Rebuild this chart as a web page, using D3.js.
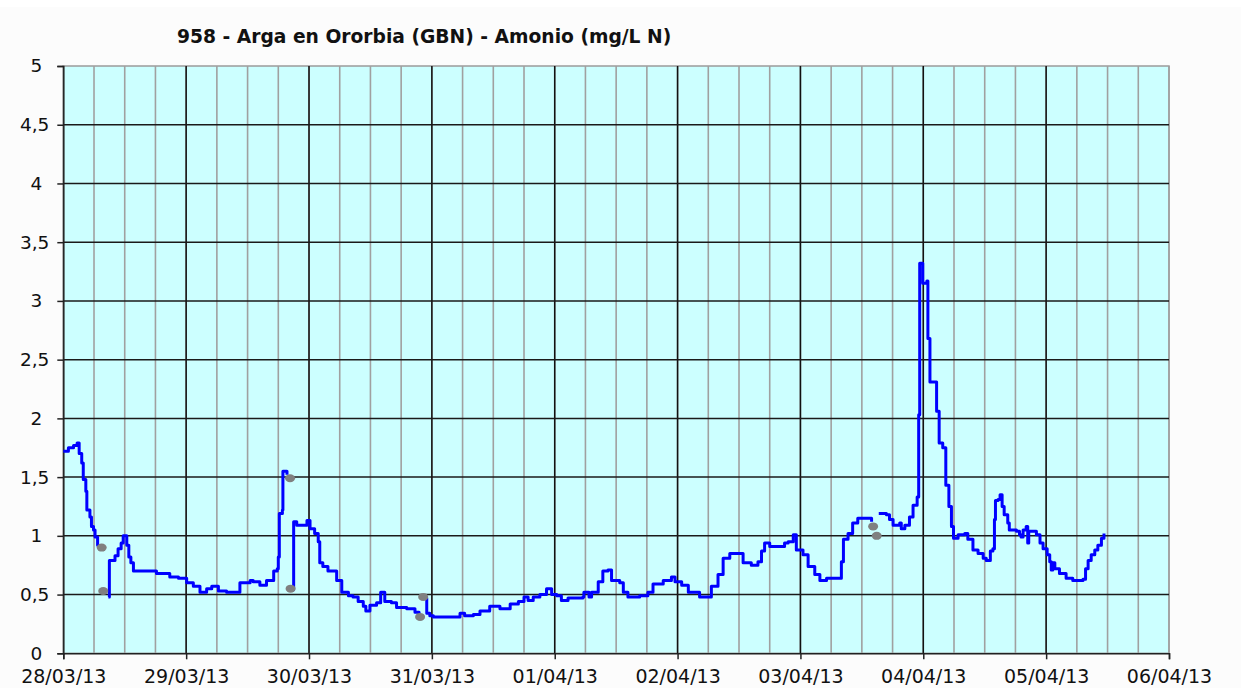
<!DOCTYPE html>
<html>
<head>
<meta charset="utf-8">
<script src="https://cdn.jsdelivr.net/npm/d3@7"></script>
<style>
  body { margin: 0; background: #fff; }
  text { font-family: "DejaVu Sans", Verdana, sans-serif; fill: #111; }
</style>
</head>
<body>
<div id="container"></div>
<script>
/* CONSTANTS AND GLOBALS */
const width = 1246,
  height = 688,
  plotLeft = 63.3,
  plotRight = 1169,
  plotTop = 66,
  plotBottom = 653.3;

const title = "958 - Arga en Ororbia (GBN) - Amonio (mg/L N)";
const inicio = new Date(2013, 2, 28);
const fin = new Date(2013, 3, 6);

// hours since 28/03/13 00:00  (null value = gap in the record)
const horas = [
  0, 1, 2, 2.7, 3.1, 3.6, 3.9, 4.4, 4.6, 5.2, 5.5, 5.9, 6.2, 6.7, 6.9,
  7.5,
  8.8, 9.0, 9.4, 10.1, 10.7, 11.3, 11.7, 12.4, 12.8, 13.2, 13.7, 16.9, 18.2, 20.8, 22.5,
  24.1, 25.4, 26.7, 28.0, 29.0, 30.3, 31.9, 33.9, 34.5, 36.5, 37.1, 38.4, 39.7, 40.7,
  41.1, 41.8, 42.0, 42.2, 42.8, 42.9, 43.5, 43.7,
  44.3,
  44.9, 45.0, 45.6, 47.2, 47.6, 48.2, 49.1, 49.8, 50.1, 50.7, 51.7, 52.7, 53.4, 54.4,
  55.7, 56.6, 57.6, 58.6, 59.1, 59.9, 61.2, 62.0, 62.8, 64.1, 65.1, 67.1, 68.7, 69.5,
  70.0,
  70.6, 71.0, 71.6, 72.3, 76.8, 77.5, 78.4, 80.1, 81.4, 83.3, 85.3, 87.3, 88.9, 90.0,
  90.8, 91.8, 93.1, 94.4, 95.4, 96.4, 97.3, 98.6, 101.5, 101.7, 102.7, 103.2, 104.5,
  105.4, 106.4, 107.1, 108.7, 109.4, 110.3, 112.6, 114.2, 115.2, 117.2, 118.8, 119.5,
  120.8, 122.1, 123.7, 124.3, 126.0, 126.6, 127.9, 128.9, 130.2, 131.8, 132.8, 134.4,
  135.7, 136.4, 137.0, 138.0, 140.0, 140.9, 141.6, 142.6, 143.2, 144.5, 145.5, 146.8,
  147.8, 149.1, 151.0, 152.0, 152.4, 153.3, 154.2, 155.2, 157.5, 157.9,
  158.5,
  159.3, 160.8, 161.4, 162.1, 163.4, 163.7, 164.4, 165.3, 166.0, 166.8, 167.1, 167.3,
  167.8, 167.9, 168.7, 168.9, 169.3, 170.2, 170.6, 171.1, 171.8, 172.4, 173.0, 173.5,
  173.9, 174.8, 176.1, 176.7, 177.7, 178.7, 179.7, 180.3, 181.1, 181.6, 181.9, 182.1,
  182.6, 183.0, 183.4, 183.8, 184.5, 184.8, 186.2, 186.8, 187.1, 187.5, 188.1, 188.4,
  188.6, 189.1, 190.1, 190.8, 191.4, 192.2, 192.7, 193.0, 193.3, 193.7, 194.6, 195.9,
  197.2, 199.2, 199.7, 200.2, 200.8, 201.5, 202.1, 202.8, 203.3
];
const amonio = [
  1.72, 1.75, 1.77, 1.79, 1.70, 1.62, 1.48, 1.38, 1.22, 1.16, 1.08, 1.05, 0.99, 0.92, 0.91,
  null,
  0.48, 0.79, 0.79, 0.83, 0.89, 0.94, 1.00, 0.92, 0.82, 0.77, 0.70, 0.70, 0.68, 0.65, 0.64,
  0.60, 0.57, 0.52, 0.55, 0.57, 0.53, 0.52, 0.52, 0.60, 0.62, 0.61, 0.58, 0.62, 0.62,
  0.70, 0.72, 0.82, 1.19, 1.22, 1.55, 1.55, 1.52,
  null,
  0.54, 1.12, 1.09, 1.09, 1.13, 1.06, 1.02, 0.95, 0.77, 0.74, 0.70, 0.70, 0.62, 0.52,
  0.49, 0.48, 0.44, 0.40, 0.36, 0.41, 0.43, 0.52, 0.44, 0.43, 0.39, 0.38, 0.35, 0.32,
  null,
  0.47, 0.34, 0.32, 0.31, 0.31, 0.34, 0.32, 0.33, 0.36, 0.40, 0.38, 0.42, 0.44, 0.48,
  0.45, 0.48, 0.50, 0.55, 0.50, 0.49, 0.45, 0.47, 0.48, 0.52, 0.48, 0.52, 0.61,
  0.70, 0.71, 0.62, 0.60, 0.52, 0.48, 0.49, 0.52, 0.59, 0.62, 0.65, 0.61,
  0.58, 0.52, 0.52, 0.48, 0.48, 0.57, 0.67, 0.81, 0.85, 0.85, 0.77, 0.75,
  0.78, 0.87, 0.94, 0.91, 0.91, 0.94, 0.95, 1.01, 0.88, 0.84, 0.74, 0.67,
  0.62, 0.64, 0.64, 0.78, 0.97, 1.02, 1.11, 1.15, 1.15, 1.12,
  null,
  1.19, 1.18, 1.14, 1.09, 1.11, 1.06, 1.09, 1.16, 1.26, 1.33, 2.03, 3.32,
  3.32, 3.15, 3.17, 2.68, 2.31, 2.31, 2.06, 1.79, 1.75, 1.43, 1.25, 1.08,
  0.98, 1.01, 1.02, 0.97, 0.88, 0.85, 0.81, 0.79, 0.87, 0.89, 1.14, 1.30,
  1.31, 1.35, 1.25, 1.18, 1.11, 1.05, 1.04, 1.01, 0.99, 1.05, 1.08, 0.94,
  1.04, 1.04, 1.01, 0.94, 0.89, 0.84, 0.78, 0.71, 0.77, 0.72, 0.68, 0.64,
  0.62, 0.63, 0.72, 0.79, 0.84, 0.88, 0.92, 0.98, 1.02
];

// grey points (validation values)
const horasPuntos = [7.5, 7.8, 44.3, 44.4, 69.7, 70.3, 158.2, 158.9];
const valoresPuntos = [0.90, 0.53, 1.49, 0.55, 0.31, 0.48, 1.08, 1.00];

const yTicks = [0, 0.5, 1, 1.5, 2, 2.5, 3, 3.5, 4, 4.5, 5];

const toDate = h => new Date(inicio.getTime() + h * 3600e3);

const data = horas.map((h, i) => ({ t: toDate(h), v: amonio[i] }));
const puntos = horasPuntos.map((h, i) => ({ t: toDate(h), v: valoresPuntos[i] }));

/* SCALES */
const xScale = d3.scaleTime()
  .domain([inicio, fin])
  .range([plotLeft, plotRight]);

const yScale = d3.scaleLinear()
  .domain([0, 5])
  .range([plotBottom, plotTop]);

const svg = d3.select("#container")
  .append("svg")
  .attr("width", width)
  .attr("height", height);

svg.append("rect")
  .attr("x", 0).attr("y", 7)
  .attr("width", 1241).attr("height", height - 7)
  .attr("fill", "#fcfcfc");

svg.append("text")
  .attr("x", 177)
  .attr("y", 43)
  .style("font-weight", "bold")
  .style("font-size", "18.7px")
  .text(title);

// plot area
svg.append("rect")
  .attr("x", plotLeft).attr("y", plotTop)
  .attr("width", plotRight - plotLeft).attr("height", plotBottom - plotTop)
  .attr("fill", "#ccffff")
  .attr("stroke", "#9a9a9a")
  .attr("stroke-width", 1.5);

// minor vertical grid, every 6 hours
svg.append("g")
  .selectAll("line")
  .data(xScale.ticks(d3.timeHour.every(6)))
  .join("line")
  .attr("x1", d => xScale(d)).attr("x2", d => xScale(d))
  .attr("y1", plotTop).attr("y2", plotBottom)
  .attr("stroke", "#a0a0a0")
  .attr("stroke-width", 1.6);

// major vertical grid, days
svg.append("g")
  .selectAll("line")
  .data(xScale.ticks(d3.timeDay.every(1)).slice(1, -1))
  .join("line")
  .attr("x1", d => xScale(d)).attr("x2", d => xScale(d))
  .attr("y1", plotTop).attr("y2", plotBottom)
  .attr("stroke", "#111")
  .attr("stroke-width", 1.5);

// horizontal grid
svg.append("g")
  .selectAll("line")
  .data(yTicks.slice(1, -1))
  .join("line")
  .attr("x1", plotLeft).attr("x2", plotRight)
  .attr("y1", d => yScale(d)).attr("y2", d => yScale(d))
  .attr("stroke", "#1a1a1a")
  .attr("stroke-width", 1.5);

/* AXES */
const yAxis = svg.append("g")
  .attr("class", "y-axis")
  .attr("transform", `translate(${plotLeft},0)`)
  .call(d3.axisLeft(yScale)
    .tickValues(yTicks)
    .tickSize(6)
    .tickPadding(8)
    .tickFormat(d => String(d).replace(".", ",")));

yAxis.selectAll("text")
  .style("font-size", "18.5px")
  .attr("dx", d => Number.isInteger(d) ? -7 : 0);

const xAxis = svg.append("g")
  .attr("class", "x-axis")
  .attr("transform", `translate(0,${plotBottom})`)
  .call(d3.axisBottom(xScale)
    .ticks(d3.timeDay.every(1))
    .tickSize(6)
    .tickPadding(10)
    .tickFormat(d3.timeFormat("%d/%m/%y")));

xAxis.selectAll("text")
  .style("font-size", "19px");

svg.selectAll(".domain, .tick line")
  .attr("stroke", "#222")
  .attr("stroke-width", 1.5);

/* LINE */
const line = d3.line()
  .defined(d => d.v !== null)
  .x(d => xScale(d.t))
  .y(d => yScale(d.v))
  .curve(d3.curveStepAfter);

svg.append("path")
  .datum(data)
  .attr("d", line)
  .attr("fill", "none")
  .attr("stroke", "#0000ff")
  .attr("stroke-width", 3)
  .attr("stroke-linejoin", "round");

svg.append("g")
  .selectAll("ellipse")
  .data(puntos)
  .join("ellipse")
  .attr("cx", d => xScale(d.t))
  .attr("cy", d => yScale(d.v))
  .attr("rx", 5)
  .attr("ry", 4)
  .attr("fill", "#808080");
</script>
</body>
</html>
